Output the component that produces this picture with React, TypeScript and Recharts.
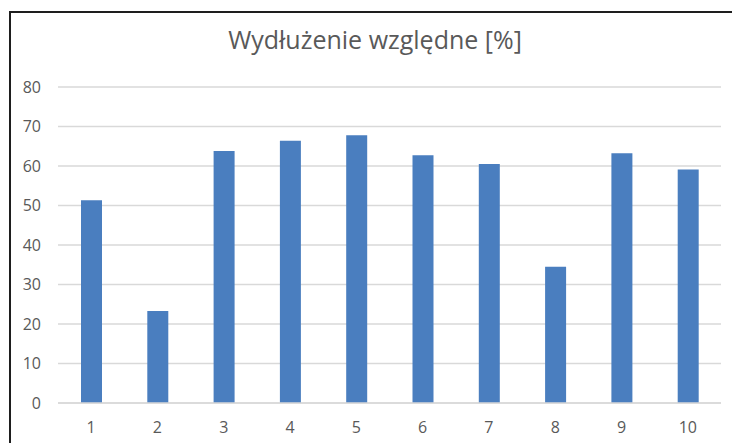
import React from "react";
import { BarChart, Bar, XAxis, YAxis, CartesianGrid } from "recharts";

const categories = ["1", "2", "3", "4", "5", "6", "7", "8", "9", "10"];
const values = [51.3, 23.3, 63.8, 66.4, 67.8, 62.7, 60.5, 34.5, 63.2, 59.1];
const yTicks = [0, 10, 20, 30, 40, 50, 60, 70, 80];
const title = "Wydłużenie względne [%]";

const data = categories.map((c, i) => ({ name: c, value: values[i] }));

const FONT = "'Open Sans', 'Noto Sans', sans-serif";

export default function App() {
  return (
    <div
      style={{
        position: "absolute",
        left: 9,
        top: 11,
        width: 723,
        height: 432,
        borderTop: "2px solid #1e1e1e",
        borderLeft: "2px solid #1e1e1e",
        background: "#fff",
        boxSizing: "border-box",
        fontFamily: FONT,
      }}
    >
      <div style={{ position: "relative", width: 721, height: 430 }}>
        <div
          style={{
            position: "absolute",
            left: 0,
            width: 728,
            top: 10,
            textAlign: "center",
            fontSize: 25,
            color: "#595959",
            lineHeight: "32px",
            fontFamily: FONT,
          }}
        >
          {title}
        </div>
        <BarChart
          width={721}
          height={430}
          data={data}
          margin={{ top: 74, right: 11, bottom: 0, left: 0 }}
        >
          <CartesianGrid vertical={false} stroke="#d9d9d9" strokeWidth={1.5} />
          <XAxis
            dataKey="name"
            height={40}
            tickLine={false}
            axisLine={{ stroke: "#d9d9d9", strokeWidth: 1.5 }}
            tickMargin={13}
            tick={{ fill: "#595959", fontSize: 16, fontFamily: FONT }}
            interval={0}
          />
          <YAxis
            width={47}
            domain={[0, 80]}
            ticks={yTicks}
            axisLine={false}
            tickLine={false}
            tickMargin={11}
            tick={{ fill: "#595959", fontSize: 16, fontFamily: FONT }}
          />
          <Bar dataKey="value" fill="#4A7EBF" barSize={21} isAnimationActive={false} />
        </BarChart>
      </div>
    </div>
  );
}
